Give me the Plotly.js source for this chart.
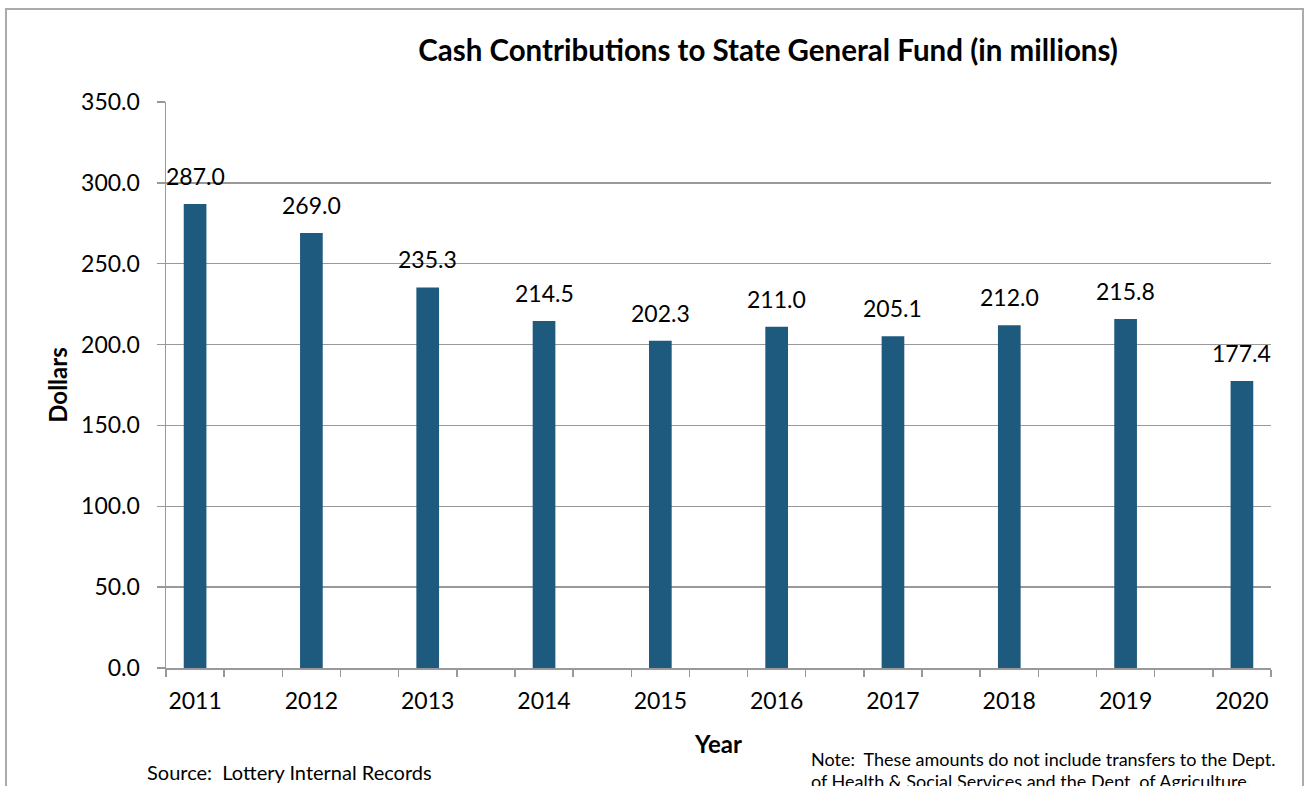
<!DOCTYPE html>
<html>
<head>
<meta charset="utf-8">
<script src="https://cdn.plot.ly/plotly-3.0.1.min.js"></script>
<style>
html,body{margin:0;padding:0;background:#fff;}
#chart{width:1304px;height:786px;}
</style>
</head>
<body>
<div id="chart"></div>
<script>
var years = ['2011','2012','2013','2014','2015','2016','2017','2018','2019','2020'];
var contributions = [287.0, 269.0, 235.3, 214.5, 202.3, 211.0, 205.1, 212.0, 215.8, 177.4];
var yTicks = [0, 50, 100, 150, 200, 250, 300, 350];

var positions = years.map(function(y, i){ return i * 2; });
var FONT = 'Lato, "Open Sans", sans-serif';

var trace = {
  type: 'bar',
  x: positions,
  y: contributions,
  width: 0.39,
  marker: {color: '#1E5A7D', line: {width: 0}},
  hoverinfo: 'y'
};

var labels = contributions.map(function(v, i){
  return {
    x: positions[i], y: v, xref: 'x', yref: 'y',
    text: v.toFixed(1), showarrow: false,
    yanchor: 'bottom', xanchor: 'center', yshift: 12,
    font: {family: FONT, size: 23, color: '#000'}
  };
});

labels.push({
  xref: 'paper', yref: 'paper', x: -0.019, y: -0.1845,
  xanchor: 'left', yanchor: 'middle', showarrow: false,
  text: 'Source:  Lottery Internal Records',
  font: {family: FONT, size: 20, color: '#000'}
});
labels.push({
  xref: 'paper', yref: 'paper', x: 0.5815, y: -0.1615,
  xanchor: 'left', yanchor: 'middle', showarrow: false, align: 'left',
  text: 'Note:  These amounts do not include transfers to the Dept.',
  font: {family: FONT, size: 18, color: '#000'}
});
labels.push({
  xref: 'paper', yref: 'paper', x: 0.5815, y: -0.199,
  xanchor: 'left', yanchor: 'middle', showarrow: false, align: 'left',
  text: 'of Health &amp; Social Services and the Dept. of Agriculture.',
  font: {family: FONT, size: 18, color: '#000'}
});

var layout = {
  width: 1304, height: 786,
  margin: {l: 166, r: 33, t: 102, b: 118, pad: 0},
  paper_bgcolor: '#fff', plot_bgcolor: '#fff',
  showlegend: false,
  title: {
    text: '<b>Cash Contributions to State General Fund (in millions)</b>',
    font: {family: FONT, size: 29.5, color: '#000'},
    x: 0.589, xanchor: 'center', y: 0.936, yanchor: 'middle'
  },
  xaxis: {
    range: [-0.5, 18.5],
    tickmode: 'array',
    tickvals: positions,
    ticktext: years,
    ticks: '',
    ticklabelstandoff: 12,
    showgrid: false,
    zeroline: false,
    showline: true, linecolor: '#999', linewidth: 1.5,
    tickfont: {family: FONT, size: 23, color: '#000'},
    minor: {tick0: -0.5, dtick: 1, ticks: 'outside', ticklen: 7, tickcolor: '#999', tickwidth: 1.5, showgrid: false},
    title: {text: '<b>Year</b>', font: {family: FONT, size: 24, color: '#000'}, standoff: 23},
    fixedrange: true
  },
  yaxis: {
    range: [0, 350],
    tickmode: 'array',
    tickvals: yTicks,
    ticktext: yTicks.map(function(v){ return v.toFixed(1); }),
    ticks: 'outside', ticklen: 8, tickcolor: '#999', tickwidth: 1.5,
    ticklabelstandoff: 12,
    showgrid: true, gridcolor: '#999', gridwidth: 1.5,
    zeroline: false,
    showline: true, linecolor: '#999', linewidth: 1.5,
    tickfont: {family: FONT, size: 23, color: '#000'},
    title: {text: '<b>Dollars</b>', font: {family: FONT, size: 24, color: '#000'}, standoff: 6},
    fixedrange: true
  },
  bargap: 0.6,
  annotations: labels,
  shapes: [{
    type: 'rect', xref: 'paper', yref: 'paper',
    x0: -0.1448, x1: 1.0290, y0: -0.35, y1: 1.1643,
    line: {color: '#aaa', width: 2}, fillcolor: 'rgba(0,0,0,0)', layer: 'below'
  }]
};

Plotly.newPlot('chart', [trace], layout, {displayModeBar: false, staticPlot: true});
</script>
</body>
</html>
